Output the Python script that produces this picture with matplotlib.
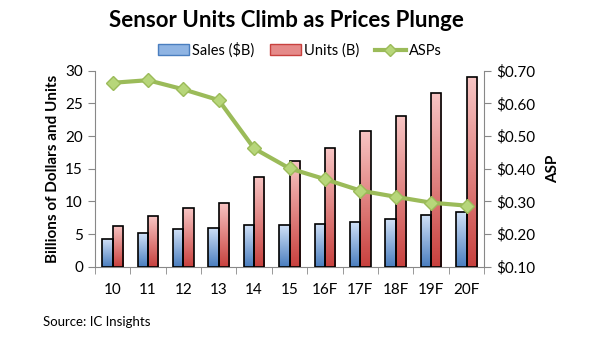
import numpy as np
import matplotlib
matplotlib.use('Agg')
from matplotlib import pyplot as plt
from matplotlib.lines import Line2D
from matplotlib.patches import Patch
from matplotlib.colors import LinearSegmentedColormap

years = ['10', '11', '12', '13', '14', '15', '16F', '17F', '18F', '19F', '20F']
sales = [4.2, 5.1, 5.7, 6.0, 6.4, 6.4, 6.6, 6.8, 7.3, 7.9, 8.3]
units = [6.3, 7.7, 9.0, 9.8, 13.8, 16.2, 18.2, 20.8, 23.1, 26.6, 29.0]
asps = [0.663, 0.671, 0.643, 0.610, 0.462, 0.401, 0.368, 0.333, 0.314, 0.296, 0.287]

plt.rcParams['font.family'] = ['Lato', 'DejaVu Sans']

fig = plt.figure(figsize=(6, 3.4), dpi=100)
ax = fig.add_axes([0.158, 0.2156, 0.649, 0.5764])
x = np.arange(len(years))
w = 0.29

blue_cm = LinearSegmentedColormap.from_list('b', ['#cfe0f7', '#4a7ebf'])
red_cm = LinearSegmentedColormap.from_list('r', ['#f8c4c3', '#c8413e'])

b1 = ax.bar(x - w / 2, sales, w, facecolor='none', edgecolor='black', lw=1.2, zorder=3)
b2 = ax.bar(x + w / 2, units, w, facecolor='none', edgecolor='black', lw=1.2, zorder=3)
grad = np.linspace(0, 1, 64).reshape(-1, 1)
for bars, cm in ((b1, blue_cm), (b2, red_cm)):
    for p in bars:
        x0, y0 = p.get_x(), p.get_y()
        im = ax.imshow(grad, cmap=cm, aspect='auto', origin='upper',
                       extent=[x0, x0 + p.get_width(), y0, y0 + p.get_height()], zorder=2)
        im.set_clip_path(p)

ax.set_xlim(-0.5, len(years) - 0.5)
ax.set_ylim(0, 30)
ax.set_yticks(range(0, 31, 5))
ax.set_xticks(x)
ax.set_xticklabels(years, fontsize=11)
ax.set_xticks(np.arange(-0.5, len(years)), minor=True)
ax.tick_params(axis='x', which='major', length=0, pad=12)
ax.tick_params(axis='x', which='minor', length=5, color='#888888')
ax.tick_params(axis='y', labelsize=11, length=5, color='#888888')
ax.set_ylabel('Billions of Dollars and Units', fontsize=11, fontweight='bold')
for s in ['top', 'right']:
    ax.spines[s].set_visible(False)
for s in ['left', 'bottom']:
    ax.spines[s].set_color('#888888')

ax2 = ax.twinx()
ax2.plot(x, asps, color='#9bbb59', lw=3, marker='D', ms=7,
         markerfacecolor='#b7d67a', markeredgecolor='#9bbb59', zorder=5)
ax2.set_ylim(0.1, 0.7)
ax2.set_yticks(np.arange(0.1, 0.71, 0.1))
ax2.set_yticklabels(['$%.2f' % v for v in np.arange(0.1, 0.71, 0.1)])
ax2.tick_params(axis='y', labelsize=11, length=5, color='#888888')
ax2.set_ylabel('ASP', fontsize=11, fontweight='bold', labelpad=8)
for s in ['top', 'left', 'bottom']:
    ax2.spines[s].set_visible(False)
ax2.spines['right'].set_color('#888888')

fig.text(0.477, 0.941, 'Sensor Units Climb as Prices Plunge', ha='center', va='center',
         fontsize=16, fontweight='bold')
handles = [Patch(facecolor='#8fb4e3', edgecolor='#4a7ebf'),
           Patch(facecolor='#e58a89', edgecolor='#c8413e'),
           Line2D([], [], color='#9bbb59', lw=3, marker='D', ms=6,
                  markerfacecolor='#b7d67a', markeredgecolor='#9bbb59')]
fig.legend(handles, ['Sales ($B)', 'Units (B)', 'ASPs'], loc='center', bbox_to_anchor=(0.5, 0.853),
           ncol=3, frameon=False, fontsize=10.5, handlelength=2.1, handletextpad=0.2,
           columnspacing=1.1, borderpad=0)
fig.text(0.072, 0.052, 'Source: IC Insights', ha='left', va='center', fontsize=9.5)

fig.savefig('out.png', dpi=100)
